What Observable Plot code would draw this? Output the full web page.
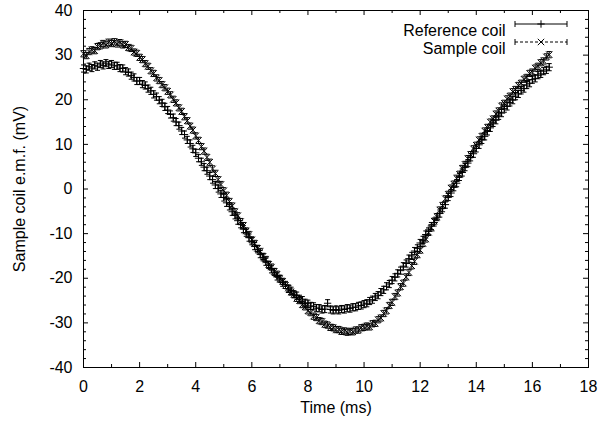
<!DOCTYPE html>
<html><head><meta charset="utf-8">
<script src="https://cdn.jsdelivr.net/npm/d3@7"></script>
<script src="https://cdn.jsdelivr.net/npm/@observablehq/plot@0.6"></script>
<style>body{margin:0;background:#fff}</style>
</head><body><div id="chart"></div>
<script>
// sampling: first time (ms) and step (ms)
const t0 = 0, dt = 0.1;
const seriesNames = ["Reference coil", "Sample coil"];
// Reference coil e.m.f. (mV), one value per 0.1 ms from 0 to 16.6 ms
const referenceCoil = [
27.0,26.8,27.4,27.1,27.7,27.4,28.0,27.7,28.2,27.8,
28.0,27.6,27.6,27.1,27.0,26.4,26.1,25.4,25.0,24.2,
24.2,23.5,23.2,22.5,22.0,21.2,20.7,19.9,19.3,18.4,
17.7,16.7,16.0,15.0,14.2,13.0,12.2,11.0,10.2,9.0,
8.1,6.9,6.1,4.9,4.1,2.9,2.1,0.9,0.1,-1.1,
-1.9,-3.1,-3.9,-5.1,-5.9,-7.1,-7.9,-9.0,-9.8,-10.9,
-11.7,-12.8,-13.5,-14.6,-15.3,-16.3,-17.0,-18.0,-18.6,-19.6,
-20.1,-21.0,-21.5,-22.4,-22.8,-23.6,-23.9,-24.6,-24.9,-25.5,
-25.7,-26.2,-26.3,-26.7,-26.7,-27.0,-26.9,-25.6,-27.0,-27.2,
-27.0,-27.2,-26.9,-27.0,-26.7,-26.8,-26.5,-26.5,-26.2,-26.1,
-25.8,-25.6,-25.1,-24.8,-24.2,-23.8,-23.1,-22.6,-21.8,-21.3,
-20.4,-19.8,-18.9,-18.3,-17.3,-16.7,-15.6,-15.0,-13.9,-13.3,
-12.1,-11.4,-10.2,-9.5,-8.3,-7.5,-6.3,-5.5,-4.3,-3.5,
-1.8,-0.9,0.4,1.3,2.7,3.7,4.9,5.8,7.1,7.9,
9.1,9.9,11.0,11.8,12.9,13.7,14.8,15.4,16.4,17.0,
18.0,18.5,19.4,19.9,20.8,21.3,22.1,22.5,23.3,23.7,
24.5,24.8,25.5,25.8,26.4,26.7,27.3
];
// Sample coil e.m.f. (mV), one value per 0.1 ms from 0 to 16.6 ms
const sampleCoil = [
30.3,29.9,30.8,31.2,31.0,31.9,32.1,32.6,32.3,32.9,
32.6,33.0,32.5,32.8,32.3,32.4,31.7,31.5,30.7,30.4,
29.5,29.0,28.1,27.5,26.5,25.9,24.9,24.3,23.4,22.7,
21.9,21.1,20.1,19.3,18.2,17.4,16.2,15.3,14.1,13.2,
11.9,10.9,9.5,8.5,7.1,6.0,4.5,3.5,2.1,1.0,
-0.4,-1.4,-2.8,-3.8,-5.1,-6.0,-7.3,-8.2,-9.4,-10.2,
-11.4,-12.2,-13.3,-14.0,-15.1,-15.8,-16.9,-17.5,-18.5,-19.1,
-20.1,-20.7,-21.6,-22.2,-23.1,-23.6,-24.5,-25.0,-25.9,-26.4,
-27.3,-27.7,-28.5,-28.8,-29.5,-29.7,-30.3,-30.5,-31.0,-31.1,
-31.5,-31.5,-31.9,-31.8,-32.1,-31.9,-32.0,-31.6,-31.6,-31.1,
-31.0,-30.7,-30.9,-30.2,-30.1,-29.3,-28.9,-27.9,-27.3,-26.1,
-25.4,-24.1,-23.3,-21.9,-21.1,-19.7,-18.7,-17.2,-16.2,-14.7,
-13.7,-12.2,-11.2,-9.7,-8.7,-7.2,-6.2,-4.7,-3.7,-2.2,
-1.2,0.2,1.1,2.4,3.3,4.6,5.5,6.8,7.7,9.0,
9.8,11.0,11.8,13.0,13.8,15.0,15.7,16.8,17.5,18.6,
19.2,20.2,20.8,21.8,22.3,23.2,23.7,24.6,25.0,25.9,
26.2,27.1,27.5,28.3,28.7,29.6,30.1
];
// error bar half-heights (mV)
const referenceErr = 0.8;
const sampleErr = 0.7;
// axis ticks
const xTicks = [0,2,4,6,8,10,12,14,16,18];
const xMinor = [1,3,5,7,9,11,13,15,17];
const yTicks = [-40,-30,-20,-10,0,10,20,30,40];
const yMinor = [-38,-36,-34,-32,-28,-26,-24,-22,-18,-16,-14,-12,-8,-6,-4,-2,2,4,6,8,12,14,16,18,22,24,26,28,32,34,36,38];
const xLabel = "Time (ms)";
const yLabel = "Sample coil e.m.f. (mV)";

const rows = (vals, err, name) => vals.map((v, i) => ({t: t0 + i * dt, v, lo: v - err, hi: v + err, name}));
const ref = rows(referenceCoil, referenceErr, seriesNames[0]);
const smp = rows(sampleCoil, sampleErr, seriesNames[1]);

const W = 605, H = 432, mL = 83, mR = 17, mT = 10, mB = 65;
const innerW = W - mL - mR, innerH = H - mT - mB;
const hcap = {draw(ctx, size) { const r = Math.sqrt(size / Math.PI); ctx.moveTo(-r, 0); ctx.lineTo(r, 0); }};
const font = "'Liberation Sans', Arial, Helvetica, sans-serif";
const fs = 16;

const chart = Plot.plot({
  width: W, height: H,
  marginLeft: mL, marginRight: mR, marginTop: mT, marginBottom: mB,
  style: {fontFamily: font, fontSize: fs + "px", color: "#000", background: "#fff", overflow: "visible"},
  x: {domain: [0, 18]},
  y: {domain: [-40, 40]},
  marks: [
    // sample coil (dashed error bars, x markers)
    Plot.ruleX(smp, {x: "t", y1: "lo", y2: "hi", stroke: "#000", strokeWidth: 1, strokeDasharray: "2,1.5"}),
    Plot.dot(smp, {x: "t", y: "lo", symbol: hcap, r: 2.5, stroke: "#000", strokeWidth: 1}),
    Plot.dot(smp, {x: "t", y: "hi", symbol: hcap, r: 2.5, stroke: "#000", strokeWidth: 1}),
    Plot.dot(smp, {x: "t", y: "v", symbol: "times", r: 3, stroke: "#000", strokeWidth: 1}),
    // reference coil (solid error bars, + markers)
    Plot.ruleX(ref, {x: "t", y1: "lo", y2: "hi", stroke: "#000", strokeWidth: 1}),
    Plot.dot(ref, {x: "t", y: "lo", symbol: hcap, r: 2.5, stroke: "#000", strokeWidth: 1}),
    Plot.dot(ref, {x: "t", y: "hi", symbol: hcap, r: 2.5, stroke: "#000", strokeWidth: 1}),
    Plot.dot(ref, {x: "t", y: "v", symbol: "plus", r: 2.5, stroke: "#000", strokeWidth: 1}),
    // frame and inward ticks on all sides
    Plot.frame({stroke: "#000", strokeWidth: 1}),
    Plot.tickX(xTicks, {x: d => d, insetTop: innerH - 5, stroke: "#000"}),
    Plot.tickX(xTicks, {x: d => d, insetBottom: innerH - 5, stroke: "#000"}),
    Plot.tickX(xMinor, {x: d => d, insetTop: innerH - 3, stroke: "#000"}),
    Plot.tickX(xMinor, {x: d => d, insetBottom: innerH - 3, stroke: "#000"}),
    Plot.tickY(yTicks, {y: d => d, insetRight: innerW - 5, stroke: "#000"}),
    Plot.tickY(yTicks, {y: d => d, insetLeft: innerW - 5, stroke: "#000"}),
    Plot.tickY(yMinor, {y: d => d, insetRight: innerW - 3, stroke: "#000"}),
    Plot.tickY(yMinor, {y: d => d, insetLeft: innerW - 3, stroke: "#000"}),
    // tick labels
    Plot.axisX(xTicks, {anchor: "bottom", tickSize: 0, tickPadding: 13, label: null, tickFormat: d => String(d), fontSize: fs}),
    Plot.axisY(yTicks, {anchor: "left", tickSize: 0, tickPadding: 11, label: null, tickFormat: d => String(d), fontSize: fs}),
    // axis titles
    Plot.text([xLabel], {frameAnchor: "bottom", dy: 45, textAnchor: "middle", text: d => d, fontSize: fs, fill: "#000"}),
    Plot.text([yLabel], {frameAnchor: "left", dx: -64, rotate: -90, textAnchor: "middle", text: d => d, fontSize: fs, fill: "#000"}),
    // key texts
    Plot.text([seriesNames[0]], {frameAnchor: "top-right", dx: -83, dy: 14, textAnchor: "end", text: d => d, fontSize: fs, fill: "#000"}),
    Plot.text([seriesNames[1]], {frameAnchor: "top-right", dx: -83, dy: 32, textAnchor: "end", text: d => d, fontSize: fs, fill: "#000"})
  ]
});

// key samples (legend graphics)
const svg = d3.select(chart);
const kx1 = W - mR - 73, kx2 = W - mR - 21, kxm = (kx1 + kx2) / 2;
const keys = [{y: mT + 14, dash: null, sym: d3.symbolPlus, size: 6.25 * Math.PI},
              {y: mT + 32, dash: "3,2", sym: d3.symbolTimes, size: 9 * Math.PI}];
const g = svg.append("g").attr("stroke", "#000").attr("fill", "none").attr("stroke-width", 1);
for (const k of keys) {
  g.append("line").attr("x1", kx1).attr("x2", kx2).attr("y1", k.y).attr("y2", k.y).attr("stroke-dasharray", k.dash);
  g.append("line").attr("x1", kx1).attr("x2", kx1).attr("y1", k.y - 3).attr("y2", k.y + 3);
  g.append("line").attr("x1", kx2).attr("x2", kx2).attr("y1", k.y - 3).attr("y2", k.y + 3);
  g.append("path").attr("d", d3.symbol(k.sym, k.size)()).attr("transform", `translate(${kxm},${k.y})`);
}
document.getElementById("chart").appendChild(chart);
</script>
</body></html>
